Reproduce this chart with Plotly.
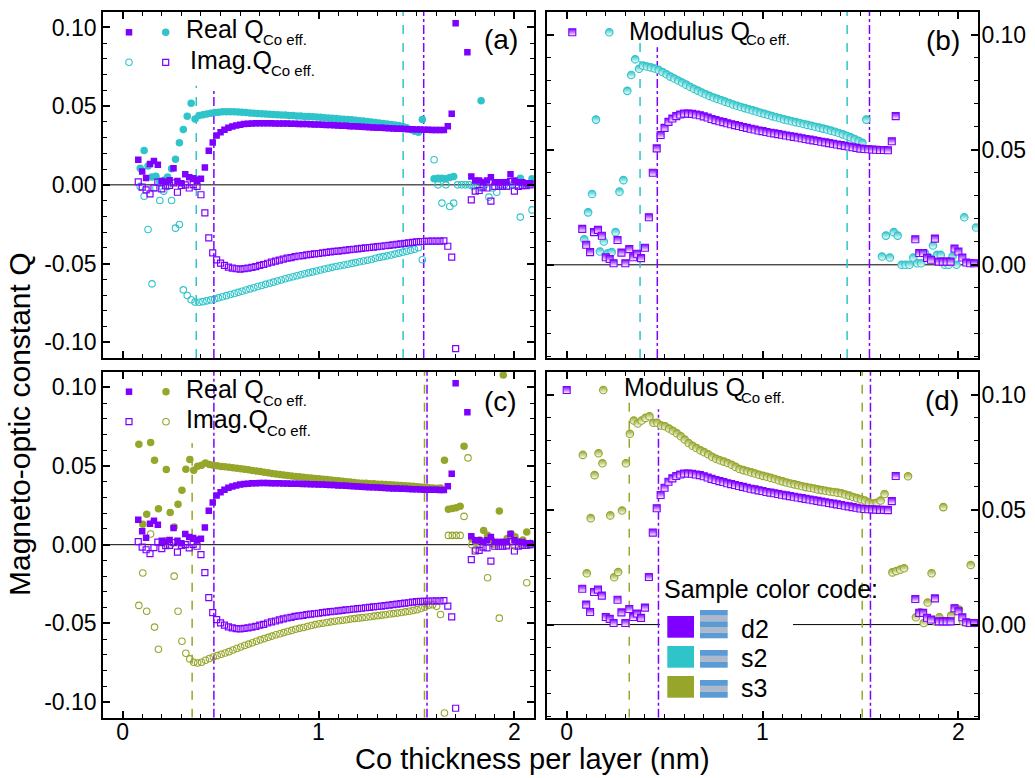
import plotly.graph_objects as go

W, H = 1035, 778
FONT = "Liberation Sans, Arial, sans-serif"
PURPLE = "#7F00FF"
TEAL = "#2EC4C9"
OLIVE = "#96A62A"
BLUE_STRIPE = "#5B9BD5"
GREY_STRIPE = "#ADB9CA"

# ---------------- data (Co thickness grid, nm) ----------------
D2_X0, S2_X0, S3_X0 = 0.08, 0.09, 0.083
DX = 0.02

D2_REAL = [0.0159, 0.0085, 0.0044, 0.0133, 0.0152, 0.0127, 0.0025, 0.0020, 0.0030, 0.0106,
           0.0025, 0.0010, 0.0068, 0.0049, 0.0042, 0.0032, 0.0038, 0.0110, 0.0216, 0.0269,
           0.0313, 0.0334, 0.0350, 0.0362, 0.0370, 0.0377, 0.0382, 0.0386, 0.0388, 0.0390,
           0.0391, 0.0392, 0.0392, 0.0392, 0.0391, 0.0390, 0.0390, 0.0389, 0.0389, 0.0388,
           0.0388, 0.0387, 0.0386, 0.0386, 0.0385, 0.0384, 0.0383, 0.0382, 0.0381, 0.0380,
           0.0379, 0.0377, 0.0376, 0.0375, 0.0373, 0.0372, 0.0370, 0.0369, 0.0367, 0.0366,
           0.0365, 0.0363, 0.0362, 0.0361, 0.0359, 0.0358, 0.0357, 0.0356, 0.0355, 0.0354,
           0.0353, 0.0352, 0.0351, 0.0350, 0.0350, 0.0349, 0.0349, 0.0348, 0.0348, 0.0372,
           0.0451, 0.1026, None, None, 0.0842, 0.0053, 0.0028, 0.0028, 0.0017, 0.0028,
           0.0049, 0.0017, 0.0017, 0.0017, 0.0017, 0.0068, 0.0028, 0.0017, 0.0017, 0.0010,
           0.0010]
D2_IMAG = [0.0019, -0.0015, -0.0032, -0.0057, -0.0019, 0.0017, -0.0025, -0.0006, -0.0004, 0.0013,
           -0.0047, -0.0004, 0.0000, -0.0020, 0.0002, -0.0010, -0.0063, -0.0178, -0.0337, -0.0432,
           -0.0476, -0.0497, -0.0512, -0.0523, -0.0529, -0.0533, -0.0535, -0.0532, -0.0529, -0.0524,
           -0.0519, -0.0512, -0.0506, -0.0498, -0.0491, -0.0485, -0.0478, -0.0472, -0.0466, -0.0462,
           -0.0456, -0.0452, -0.0449, -0.0445, -0.0442, -0.0439, -0.0436, -0.0432, -0.0429, -0.0426,
           -0.0423, -0.0421, -0.0418, -0.0415, -0.0412, -0.0409, -0.0407, -0.0404, -0.0401, -0.0398,
           -0.0395, -0.0393, -0.0390, -0.0387, -0.0384, -0.0381, -0.0378, -0.0375, -0.0372, -0.0369,
           -0.0365, -0.0362, -0.0360, -0.0360, -0.0358, -0.0358, -0.0357, -0.0358, -0.0356, -0.0390,
           -0.0459, -0.1040, None, None, None, -0.0095, -0.0040, -0.0036, -0.0015, -0.0020,
           -0.0104, -0.0010, -0.0010, -0.0010, -0.0008, 0.0020, -0.0040, -0.0010, -0.0005, -0.0005,
           0.0000]
D2_MOD = [0.0156, 0.0087, 0.0055, 0.0142, 0.0152, 0.0126, 0.0033, 0.0025, 0.0007, 0.0108,
          0.0053, 0.0007, 0.0068, 0.0033, 0.0048, 0.0029, 0.0074, 0.0207, 0.0400, 0.0506,
          0.0564, 0.0595, 0.0621, 0.0636, 0.0646, 0.0653, 0.0657, 0.0657, 0.0656, 0.0653,
          0.0650, 0.0645, 0.0640, 0.0634, 0.0629, 0.0624, 0.0620, 0.0615, 0.0611, 0.0607,
          0.0603, 0.0599, 0.0595, 0.0591, 0.0588, 0.0584, 0.0581, 0.0577, 0.0574, 0.0571,
          0.0568, 0.0565, 0.0562, 0.0559, 0.0556, 0.0553, 0.0550, 0.0547, 0.0544, 0.0541,
          0.0538, 0.0535, 0.0532, 0.0529, 0.0526, 0.0523, 0.0520, 0.0517, 0.0514, 0.0511,
          0.0508, 0.0505, 0.0503, 0.0502, 0.0501, 0.0500, 0.0499, 0.0499, 0.0498, 0.0537,
          0.0646, None, None, None, None, 0.0111, 0.0051, 0.0051, 0.0030, 0.0022,
          0.0114, 0.0014, 0.0014, 0.0014, 0.0014, 0.0071, 0.0058, 0.0032, 0.0010, 0.0007,
          0.0007]

S2_REAL = [0.0106, 0.0218, 0.0120, 0.0050, 0.0055, 0.0020, 0.0030, 0.0050, 0.0102, 0.0163,
           0.0268, 0.0352, 0.0436, 0.0519, 0.0419, 0.0440, 0.0445, 0.0450, 0.0455, 0.0459,
           0.0462, 0.0464, 0.0465, 0.0465, 0.0464, 0.0463, 0.0461, 0.0459, 0.0457, 0.0455,
           0.0453, 0.0452, 0.0450, 0.0449, 0.0447, 0.0446, 0.0444, 0.0443, 0.0441, 0.0440,
           0.0438, 0.0437, 0.0435, 0.0434, 0.0432, 0.0431, 0.0429, 0.0427, 0.0425, 0.0423,
           0.0421, 0.0419, 0.0417, 0.0415, 0.0413, 0.0410, 0.0408, 0.0405, 0.0402, 0.0399,
           0.0396, 0.0393, 0.0390, 0.0387, 0.0384, 0.0380, 0.0377, 0.0370, 0.0362, 0.0352,
           0.0340, 0.0334, 0.0415, None, None, 0.0038, 0.0042, 0.0042, 0.0038, 0.0047,
           0.0053, None, None, None, None, None, None, 0.0535, None, None,
           None, None, None, None, None, None, None, 0.0042, None, None,
           0.0038]
S2_IMAG = [-0.0010, -0.0072, -0.0284, -0.0629, -0.0020, -0.0099, -0.0040, -0.0010, -0.0099, -0.0275,
           -0.0252, -0.0667, -0.0703, -0.0730, -0.0745, -0.0746, -0.0742, -0.0737, -0.0731, -0.0725,
           -0.0718, -0.0711, -0.0704, -0.0697, -0.0690, -0.0683, -0.0676, -0.0668, -0.0661, -0.0654,
           -0.0646, -0.0639, -0.0632, -0.0625, -0.0618, -0.0611, -0.0604, -0.0597, -0.0590, -0.0584,
           -0.0577, -0.0571, -0.0565, -0.0559, -0.0553, -0.0547, -0.0541, -0.0535, -0.0530, -0.0524,
           -0.0519, -0.0514, -0.0509, -0.0504, -0.0499, -0.0494, -0.0489, -0.0484, -0.0479, -0.0474,
           -0.0466, -0.0461, -0.0456, -0.0451, -0.0446, -0.0440, -0.0434, -0.0428, -0.0422, -0.0416,
           -0.0409, -0.0400, -0.0476, None, None, 0.0159, 0.0000, -0.0116, 0.0000, -0.0138,
           -0.0116, 0.0000, 0.0000, 0.0000, 0.0000, -0.0010, 0.0000, -0.0020, 0.0000, -0.0078,
           -0.0020, -0.0047, 0.0000, 0.0000, -0.0010, 0.0000, 0.0000, -0.0205, 0.0000, 0.0000,
           -0.0159]
S2_MOD = [0.0111, 0.0228, 0.0308, 0.0631, 0.0058, 0.0101, 0.0050, 0.0055, 0.0142, 0.0318,
          0.0368, 0.0756, 0.0825, 0.0893, 0.0852, 0.0866, 0.0862, 0.0858, 0.0853, 0.0847,
          0.0838, 0.0828, 0.0818, 0.0810, 0.0801, 0.0792, 0.0783, 0.0774, 0.0765, 0.0757,
          0.0749, 0.0741, 0.0734, 0.0727, 0.0721, 0.0715, 0.0709, 0.0703, 0.0697, 0.0691,
          0.0686, 0.0681, 0.0676, 0.0671, 0.0666, 0.0661, 0.0656, 0.0651, 0.0646, 0.0641,
          0.0637, 0.0632, 0.0628, 0.0624, 0.0620, 0.0616, 0.0612, 0.0608, 0.0604, 0.0600,
          0.0596, 0.0592, 0.0588, 0.0583, 0.0578, 0.0573, 0.0567, 0.0561, 0.0554, 0.0547,
          0.0539, 0.0530, 0.0631, None, None, None, 0.0036, 0.0127, 0.0032, 0.0142,
          0.0127, 0.0000, 0.0000, 0.0000, 0.0032, 0.0007, 0.0007, 0.0050, 0.0032, 0.0084,
          0.0043, 0.0043, 0.0000, 0.0000, 0.0036, 0.0000, None, 0.0207, None, None,
          0.0162]

S3_REAL = [0.0639, 0.0130, 0.0193, 0.0650, 0.0537, 0.0229, None, 0.0478, 0.0204, 0.0113,
           0.0257, 0.0346, 0.0480, 0.0541, 0.0473, 0.0499, 0.0505, 0.0520, 0.0510, 0.0505,
           0.0502, 0.0498, 0.0495, 0.0492, 0.0489, 0.0486, 0.0483, 0.0480, 0.0476, 0.0472,
           0.0468, 0.0465, 0.0461, 0.0457, 0.0453, 0.0450, 0.0446, 0.0443, 0.0440, 0.0437,
           0.0434, 0.0432, 0.0429, 0.0426, 0.0424, 0.0421, 0.0419, 0.0416, 0.0414, 0.0411,
           0.0409, 0.0406, 0.0404, 0.0401, 0.0398, 0.0396, 0.0393, 0.0391, 0.0390, 0.0388,
           0.0387, 0.0385, 0.0384, 0.0382, 0.0381, 0.0379, 0.0378, 0.0376, 0.0375, 0.0373,
           0.0371, 0.0369, 0.0367, 0.0364, 0.0362, 0.0360, 0.0359, 0.0361, 0.0537, 0.0225,
           0.0230, 0.0235, 0.0244, 0.0626, None, 0.0038, 0.0020, 0.0030, 0.0091, 0.0060,
           0.0030, 0.0010, 0.0214, 0.1079, 0.0040, 0.0070, 0.0050, 0.0020, 0.0030, 0.0081,
           0.0010]
S3_IMAG = [-0.0386, -0.0180, -0.0423, 0.0068, -0.0524, -0.0665, None, 0.0025, -0.0004, -0.0200,
           -0.0423, -0.0614, -0.0690, -0.0726, -0.0747, -0.0752, -0.0747, -0.0735, -0.0724, -0.0714,
           -0.0705, -0.0697, -0.0689, -0.0680, -0.0670, -0.0660, -0.0650, -0.0641, -0.0632, -0.0623,
           -0.0614, -0.0605, -0.0597, -0.0589, -0.0581, -0.0573, -0.0566, -0.0559, -0.0552, -0.0545,
           -0.0538, -0.0532, -0.0526, -0.0520, -0.0514, -0.0508, -0.0503, -0.0499, -0.0495, -0.0491,
           -0.0487, -0.0484, -0.0480, -0.0477, -0.0473, -0.0470, -0.0467, -0.0464, -0.0461, -0.0458,
           -0.0454, -0.0451, -0.0448, -0.0445, -0.0441, -0.0438, -0.0435, -0.0431, -0.0427, -0.0423,
           -0.0418, -0.0413, -0.0406, -0.0398, -0.0385, -0.0382, -0.0392, -0.0444, -0.1070, 0.0059,
           0.0059, 0.0059, 0.0059, 0.0180, 0.0552, 0.0000, -0.0030, 0.0000, 0.0015, -0.0210,
           0.0010, 0.0000, -0.0467, 0.0015, 0.0000, 0.0020, -0.0010, 0.0010, 0.0000, -0.0242,
           0.0000]
S3_MOD = [0.0738, 0.0223, 0.0463, 0.0650, 0.0745, 0.0702, None, 0.0475, 0.0206, 0.0229,
          0.0496, 0.0702, 0.0830, 0.0888, 0.0875, 0.0888, 0.0899, 0.0906, 0.0878, 0.0878,
          0.0866, 0.0863, 0.0853, 0.0843, 0.0832, 0.0819, 0.0805, 0.0790, 0.0778, 0.0768,
          0.0758, 0.0750, 0.0741, 0.0730, 0.0721, 0.0715, 0.0709, 0.0703, 0.0695, 0.0686,
          0.0677, 0.0672, 0.0667, 0.0662, 0.0657, 0.0652, 0.0647, 0.0643, 0.0638, 0.0633,
          0.0628, 0.0623, 0.0618, 0.0614, 0.0610, 0.0606, 0.0602, 0.0598, 0.0595, 0.0592,
          0.0588, 0.0585, 0.0582, 0.0579, 0.0577, 0.0574, 0.0571, 0.0566, 0.0561, 0.0555,
          0.0550, 0.0545, 0.0540, 0.0532, 0.0527, 0.0530, 0.0540, 0.0568, None, 0.0227,
          0.0233, 0.0239, 0.0245, 0.0645, None, 0.0032, 0.0053, 0.0007, 0.0096, 0.0223,
          0.0014, 0.0032, 0.0511, None, 0.0039, 0.0072, 0.0065, 0.0014, 0.0007, 0.0259,
          0.0007]

# vertical marker lines: x positions (nm) and top end (None = full height)
VL_A_X = [0.376, 0.466, 1.432, 1.537]; VL_A_TOP = [0.063, 0.060, None, None]
VL_B_X = [0.375, 0.463, 1.432, 1.546]; VL_B_TOP = [0.0975, 0.0946, None, None]
VL_C_X = [0.355, 0.466, 1.541, 1.554]; VL_C_TOP = [0.0645, None, None, None]
VL_D_X = [0.320, 0.469, 1.509, 1.551]; VL_D_TOP = [0.097, 0.0937, None, None]

# axes
X_RANGE = [-0.1, 2.1]
Y_RANGE_L = [-0.11, 0.11]
Y_RANGE_R = [-0.0405, 0.11]
X_TICKS = [0, 1, 2]
X_TICK_TEXT = ["0", "1", "2"]
Y_TICKS_L = [-0.10, -0.05, 0.0, 0.05, 0.10]
Y_TICK_TEXT_L = ["-0.10", "-0.05", "0.00", "0.05", "0.10"]
Y_TICKS_R = [0.0, 0.05, 0.10]
Y_TICK_TEXT_R = ["0.00", "0.05", "0.10"]

SAMPLES = ["d2", "s2", "s3"]

# ---------------- layout helpers ----------------
def px(x):
    return x / W

def py(y):
    return 1 - y / H

XD_L = [px(103), px(534)]
XD_R = [px(547), px(978)]
YD_T = [py(358), py(11.7)]
YD_B = [py(717.7), py(371.7)]

fig = go.Figure()

def mk(sym, size, color, fill=None, lw=0, half=False):
    m = dict(symbol=sym, size=size, color=color if fill is None else fill,
             line=dict(color=color, width=lw))
    if half:
        m["gradient"] = dict(type="vertical", color="white")
    return m

STY = {
    "d2_real": mk("square", 6.5, PURPLE),
    "d2_imag": mk("square-open", 6, PURPLE, lw=1.2),
    "d2_mod": mk("square", 7, PURPLE, lw=1.1, half=True),
    "s2_real": mk("circle", 7.5, TEAL),
    "s2_imag": mk("circle-open", 6.5, TEAL, lw=1.1),
    "s2_mod": mk("circle", 7.5, TEAL, lw=1.1, half=True),
    "s3_real": mk("circle", 7.5, OLIVE),
    "s3_imag": mk("circle-open", 6.5, OLIVE, lw=1.1),
    "s3_mod": mk("circle", 7.5, OLIVE, lw=1.1, half=True),
}

def add(x0, y, key, ax):
    fig.add_trace(go.Scatter(x0=x0, dx=DX, y=y, mode="markers", marker=STY[key],
                             xaxis="x" + ax, yaxis="y" + ax, showlegend=False,
                             hoverinfo="skip"))

# (a)
add(S2_X0, S2_REAL, "s2_real", "")
add(S2_X0, S2_IMAG, "s2_imag", "")
add(D2_X0, D2_REAL, "d2_real", "")
add(D2_X0, D2_IMAG, "d2_imag", "")
# (b)
add(S2_X0, S2_MOD, "s2_mod", "2")
add(D2_X0, D2_MOD, "d2_mod", "2")
# (c)
add(S3_X0, S3_REAL, "s3_real", "3")
add(S3_X0, S3_IMAG, "s3_imag", "3")
add(D2_X0, D2_REAL, "d2_real", "3")
add(D2_X0, D2_IMAG, "d2_imag", "3")
# (d)
add(S3_X0, S3_MOD, "s3_mod", "4")
add(D2_X0, D2_MOD, "d2_mod", "4")

# legend keys on an overlay pixel-space axis
LEG_KEYS = [
    (129, 32.3, "d2_real"), (165.7, 32.3, "s2_real"),
    (129, 62.3, "s2_imag"), (165.7, 62.3, "d2_imag"),
    (572.3, 32.3, "d2_mod"), (609.3, 32.3, "s2_mod"),
    (129, 391.7, "d2_real"), (166, 391.7, "s3_real"),
    (129, 421.7, "d2_imag"), (166, 421.7, "s3_imag"),
    (566.7, 390, "d2_mod"), (603.3, 390, "s3_mod"),
]
for lx, ly, key in LEG_KEYS:
    fig.add_trace(go.Scatter(x=[lx], y=[ly], mode="markers", marker=STY[key],
                             xaxis="x5", yaxis="y5", showlegend=False,
                             hoverinfo="skip", cliponaxis=False))

tickfont = dict(family=FONT, size=23, color="black")

def xax(domain, anchor, labels):
    return dict(domain=domain, anchor=anchor, range=X_RANGE, tickmode="array",
                tickvals=X_TICKS, ticktext=X_TICK_TEXT, showticklabels=labels,
                ticks="inside", ticklen=7, tickwidth=1.5, tickcolor="black",
                showline=True, linecolor="black", linewidth=1.6, mirror="ticks",
                showgrid=False, zeroline=False, tickfont=tickfont,
                ticklabelstandoff=-7, automargin=False,
                minor=dict(tickmode="linear", tick0=0, dtick=0.1, ticks="inside",
                           ticklen=4, tickwidth=1.2, tickcolor="black", showgrid=False))

def yax(domain, anchor, left):
    return dict(domain=domain, anchor=anchor,
                range=Y_RANGE_L if left else Y_RANGE_R, tickmode="array",
                tickvals=Y_TICKS_L if left else Y_TICKS_R,
                ticktext=Y_TICK_TEXT_L if left else Y_TICK_TEXT_R,
                side="left" if left else "right",
                ticks="inside", ticklen=7, tickwidth=1.5, tickcolor="black",
                showline=True, linecolor="black", linewidth=1.6, mirror="ticks",
                showgrid=False, zeroline=False, tickfont=tickfont,
                ticklabelstandoff=0 if left else -3, automargin=False,
                minor=dict(tickmode="linear", tick0=0, dtick=0.01, ticks="inside",
                           ticklen=4, tickwidth=1.2, tickcolor="black", showgrid=False))

shapes = []
def vlines(xs, tops, ax, colors, dashes, yrng):
    for x, top, c, d in zip(xs, tops, colors, dashes):
        shapes.append(dict(type="line", xref="x" + ax, yref="y" + ax, x0=x, x1=x,
                           y0=yrng[0], y1=yrng[1] if top is None else top,
                           line=dict(color=c, width=1.5, dash=d), layer="below"))

def zline(ax):
    shapes.append(dict(type="line", xref="x" + ax + " domain", yref="y" + ax,
                       x0=0, x1=1, y0=0, y1=0, line=dict(color="black", width=1),
                       layer="below"))

for ax in ["", "2", "3", "4"]:
    zline(ax)
vlines(VL_A_X, VL_A_TOP, "", [TEAL, PURPLE, TEAL, PURPLE], ["dash", "dashdot", "dash", "dashdot"], Y_RANGE_L)
vlines(VL_B_X, VL_B_TOP, "2", [TEAL, PURPLE, TEAL, PURPLE], ["dash", "dashdot", "dash", "dashdot"], Y_RANGE_R)
vlines(VL_C_X, VL_C_TOP, "3", [OLIVE, PURPLE, OLIVE, PURPLE], ["dash", "dashdot", "dash", "dashdot"], Y_RANGE_L)
vlines(VL_D_X, VL_D_TOP, "4", [OLIVE, PURPLE, OLIVE, PURPLE], ["dash", "dashdot", "dash", "dashdot"], Y_RANGE_R)

def prect(x0, y0, x1, y1, color):
    shapes.append(dict(type="rect", xref="paper", yref="paper", x0=px(x0), x1=px(x1),
                       y0=py(y1), y1=py(y0), fillcolor=color, line=dict(width=0),
                       layer="above"))

# sample colour code box in (d)
prect(660, 603, 793, 702, "white")
SW_TOP = [616, 646, 676]
for top, c in zip(SW_TOP, [PURPLE, TEAL, OLIVE]):
    prect(667.3, top, 694, top + 21.7, c)
# striped swatches
d2_edges = [610, 615.7, 621.3, 627, 632.7, 638.3]
for i in range(5):
    prect(700, d2_edges[i], 727.7, d2_edges[i + 1], BLUE_STRIPE if i % 2 == 0 else GREY_STRIPE)
for top in [650, 680]:
    e = [top, top + 5.9, top + 11.8, top + 17.7]
    for i in range(3):
        prect(700, e[i], 727.7, e[i + 1], BLUE_STRIPE if i % 2 == 0 else GREY_STRIPE)

anns = []
def ann(text, x, y, size, xanchor="left", yanchor="middle", angle=0):
    anns.append(dict(text=text, x=px(x), y=py(y), xref="paper", yref="paper",
                     xanchor=xanchor, yanchor=yanchor, showarrow=False, textangle=angle,
                     align="left" if xanchor == "left" else "center", borderpad=0,
                     font=dict(family=FONT, size=size, color="black")))

ann("Real Q", 185, 29.5, 25); ann("Co eff.", 262, 40, 15)
ann("Imag.Q", 189, 59.5, 25); ann("Co eff.", 270, 71, 15)
ann("Modulus Q", 628, 31, 25); ann("Co eff.", 745, 40, 15)
ann("Real Q", 185, 389, 25); ann("Co eff.", 262, 400, 15)
ann("Imag.Q", 185, 419, 25); ann("Co eff.", 266, 430, 15)
ann("Modulus Q", 622.7, 387.5, 25); ann("Co eff.", 740, 398, 15)
ann("(a)", 500.5, 40, 28, "center"); ann("(b)", 942.5, 40.5, 28, "center")
ann("(c)", 500, 401.5, 28, "center"); ann("(d)", 942, 400.5, 28, "center")
ann("Sample color code:", 663, 589, 25)
for s, yy in zip(SAMPLES, [628.5, 658, 688]):
    ann(s, 740, yy, 25)
ann("Magneto-optic constant Q", 20, 424, 30, "center", "middle", -90)
ann("Co thickness per layer (nm)", 532.5, 759, 29, "center")

fig.update_layout(
    width=W, height=H, autosize=False,
    margin=dict(l=0, r=0, t=0, b=0, pad=0),
    paper_bgcolor="white", plot_bgcolor="rgba(0,0,0,0)",
    font=dict(family=FONT, color="black"),
    showlegend=False,
    xaxis=xax(XD_L, "y", False), yaxis=yax(YD_T, "x", True),
    xaxis2=xax(XD_R, "y2", False), yaxis2=yax(YD_T, "x2", False),
    xaxis3=xax(XD_L, "y3", True), yaxis3=yax(YD_B, "x3", True),
    xaxis4=xax(XD_R, "y4", True), yaxis4=yax(YD_B, "x4", False),
    xaxis5=dict(domain=[0, 1], anchor="y5", range=[0, W], visible=False, fixedrange=True),
    yaxis5=dict(domain=[0, 1], anchor="x5", range=[H, 0], visible=False, fixedrange=True),
    shapes=shapes, annotations=anns,
)

fig.write_html("out.html", config={"displayModeBar": False},
               post_script="document.body.style.margin='0';document.body.style.overflow='hidden';")
